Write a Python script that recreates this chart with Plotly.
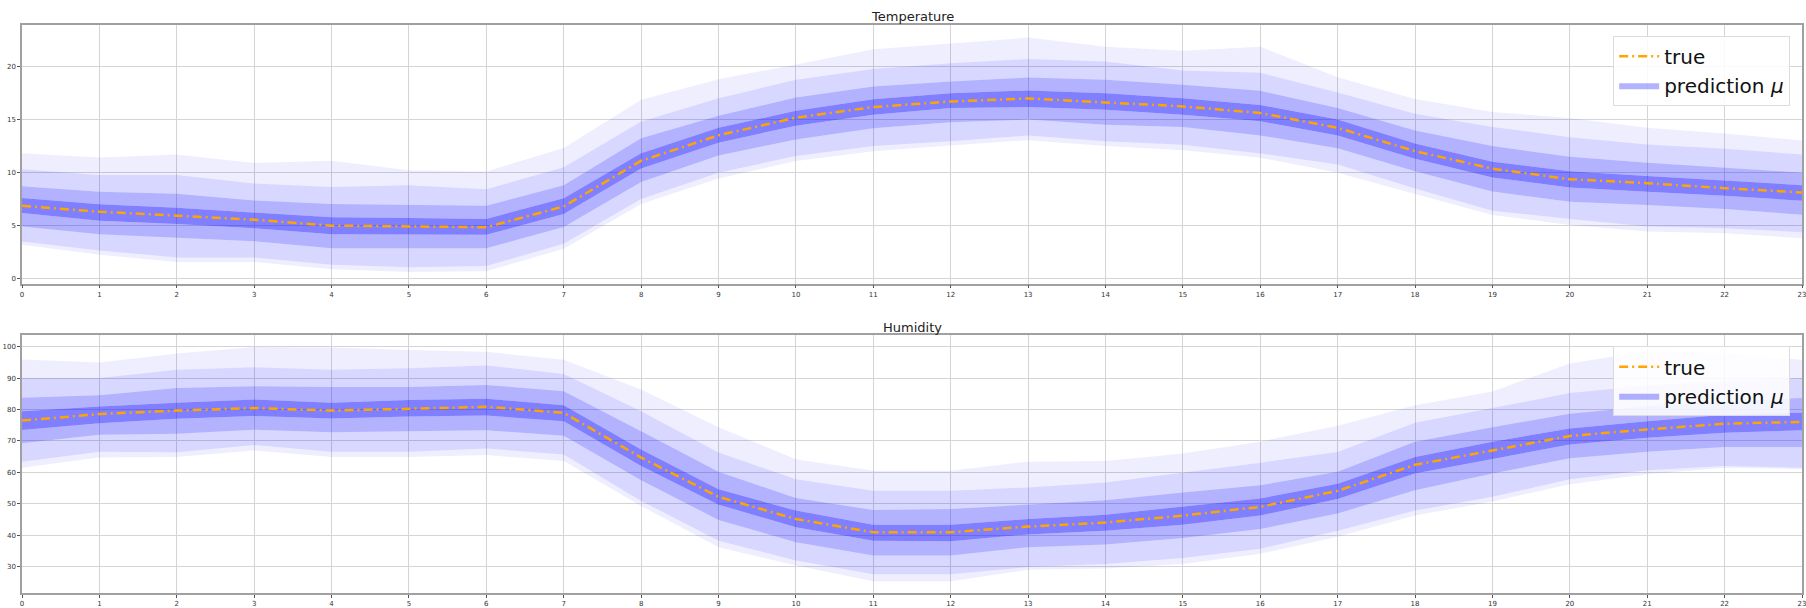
import plotly.graph_objects as go

hours = list(range(24))
x_ticks = list(range(24))

# Temperature: band boundaries (lightest-low ... lightest-high) and true values
temp_true = [6.86, 6.3, 5.93, 5.55, 4.99, 4.93, 4.84, 6.8, 11.1, 13.5, 15.16, 16.16,
             16.69, 16.97, 16.63, 16.22, 15.6, 14.2, 12.01, 10.36, 9.36, 8.99, 8.52, 8.11]
temp_lo4 = [3.2, 2.25, 1.56, 1.56, 0.87, 0.62, 0.69, 2.81, 7.02, 9.42, 11.08, 12.0,
            12.54, 13.04, 12.48, 12.1, 11.39, 9.98, 7.96, 5.99, 5.05, 4.43, 4.27, 3.81]
temp_lo3 = [3.5, 2.65, 2.0, 2.0, 1.31, 1.06, 1.19, 3.28, 7.49, 9.98, 11.54, 12.48,
            12.95, 13.48, 12.95, 12.6, 11.79, 10.76, 8.49, 6.4, 5.62, 4.9, 4.74, 4.37]
temp_lo2 = [4.9, 4.18, 3.84, 3.53, 2.87, 2.87, 2.87, 4.87, 9.11, 11.6, 13.1, 14.17,
            14.73, 14.98, 14.5, 14.29, 13.48, 12.29, 10.11, 8.21, 7.24, 6.93, 6.55, 6.02]
temp_lo1 = [6.18, 5.46, 5.15, 4.74, 4.18, 4.12, 4.12, 6.08, 10.36, 12.8, 14.41, 15.44,
            16.07, 16.16, 15.91, 15.44, 14.82, 13.48, 11.29, 9.52, 8.58, 8.17, 7.8, 7.33]
temp_hi1 = [7.6, 7.0, 6.68, 6.24, 5.77, 5.71, 5.62, 7.58, 11.8, 14.2, 15.82, 16.9,
            17.47, 17.72, 17.47, 17.0, 16.35, 14.98, 12.73, 11.01, 10.11, 9.67, 9.2, 8.8]
temp_hi2 = [8.7, 8.17, 7.99, 7.36, 7.02, 6.96, 6.86, 8.8, 13.23, 15.35, 17.07, 18.1,
            18.56, 18.94, 18.72, 18.25, 17.69, 16.07, 13.95, 12.48, 11.48, 10.92, 10.45, 9.98]
temp_hi3 = [10.3, 9.77, 9.77, 8.95, 8.64, 8.8, 8.42, 10.5, 14.8, 17.0, 18.72, 19.75,
            20.28, 20.69, 20.44, 19.6, 19.4, 17.53, 15.54, 14.29, 13.32, 12.64, 12.23, 11.7]
temp_hi4 = [11.8, 11.4, 11.7, 10.9, 11.1, 10.2, 10.1, 12.3, 16.85, 18.78, 20.16, 21.6,
            22.15, 22.7, 21.84, 21.47, 21.84, 18.97, 16.91, 15.69, 15.13, 14.2, 13.67, 13.01]

# Humidity
hum_true = [76.5, 78.6, 79.7, 80.5, 79.7, 80.4, 80.9, 79.0, 64.7, 52.2, 45.1, 40.9,
            40.9, 42.7, 44.0, 46.2, 49.0, 54.1, 62.4, 67.0, 71.6, 73.7, 75.5, 76.1]
hum_lo4 = [61.5, 64.7, 64.9, 67.0, 64.9, 64.9, 65.5, 63.6, 49.3, 36.1, 30.3, 25.3,
           25.3, 28.9, 29.3, 30.8, 34.0, 39.5, 46.2, 50.7, 56.2, 59.4, 61.5, 61.0]
hum_lo3 = [63.4, 66.6, 66.4, 68.7, 66.6, 66.6, 67.6, 65.7, 50.9, 38.2, 31.9, 27.5,
           27.5, 29.8, 30.8, 32.7, 35.6, 41.4, 47.8, 52.2, 57.8, 60.7, 62.0, 61.5]
hum_lo2 = [69.3, 72.0, 72.3, 73.6, 72.8, 73.1, 73.4, 71.7, 57.5, 44.8, 37.7, 33.5,
           33.5, 36.1, 37.0, 39.1, 41.9, 46.9, 54.3, 59.6, 64.5, 66.6, 68.1, 68.1]
hum_lo1 = [73.5, 75.7, 77.1, 78.0, 77.2, 77.8, 78.1, 76.3, 62.0, 49.7, 42.5, 38.2,
           38.0, 40.2, 41.4, 43.3, 46.2, 51.5, 59.6, 64.2, 68.9, 71.0, 72.6, 73.4]
hum_hi1 = [79.5, 81.0, 82.2, 83.2, 82.2, 83.1, 83.5, 81.4, 67.3, 54.6, 47.8, 43.3,
           43.3, 45.1, 46.5, 49.0, 51.7, 56.4, 64.9, 69.8, 74.0, 76.3, 78.4, 79.0]
hum_hi2 = [83.8, 84.6, 86.9, 87.5, 87.2, 87.2, 87.9, 85.9, 73.1, 60.2, 51.8, 48.0,
           48.3, 49.7, 51.1, 53.6, 55.9, 60.2, 69.8, 74.4, 78.7, 81.1, 82.6, 83.7]
hum_hi3 = [90.1, 90.1, 92.7, 93.5, 92.7, 93.2, 94.1, 91.4, 79.5, 66.3, 57.8, 54.1,
           54.1, 55.2, 56.8, 59.9, 63.1, 66.5, 75.8, 80.5, 85.3, 87.7, 89.0, 90.1]
hum_hi4 = [96.0, 95.0, 97.9, 100.0, 99.8, 99.0, 98.5, 95.9, 86.4, 74.4, 64.2, 60.5,
           60.5, 63.4, 63.6, 66.0, 69.8, 74.9, 81.4, 85.8, 94.7, 98.7, 98.0, 95.9]

titles = ["Temperature", "Humidity"]
temp_ticks = [0, 5, 10, 15, 20]
hum_ticks = [30, 40, 50, 60, 70, 80, 90, 100]

STRIP_COLORS = ["rgba(0,0,255,0.065)", "rgba(0,0,255,0.155)", "rgba(0,0,255,0.30)",
                "rgba(0,0,255,0.50)", "rgba(0,0,255,0.30)", "rgba(0,0,255,0.155)",
                "rgba(0,0,255,0.065)"]

fig = go.Figure()


def add_panel(idx, bounds, true_vals, legend_name):
    xa = "x" if idx == 1 else f"x{idx}"
    ya = "y" if idx == 1 else f"y{idx}"
    for i, b in enumerate(bounds):
        tr = dict(x=hours, y=b, xaxis=xa, yaxis=ya, mode="lines",
                  line=dict(width=0, color="rgba(0,0,0,0)"),
                  hoverinfo="skip", showlegend=False, legend=legend_name)
        if i > 0:
            tr["fill"] = "tonexty"
            tr["fillcolor"] = STRIP_COLORS[i - 1]
        if i == 3:
            tr["showlegend"] = True
            tr["name"] = "prediction <i>μ</i>"
            tr["legendrank"] = 2
            tr["fillcolor"] = STRIP_COLORS[2]
        fig.add_trace(go.Scatter(**tr))
    fig.add_trace(go.Scatter(x=hours, y=true_vals, xaxis=xa, yaxis=ya, mode="lines",
                             name="true", legend=legend_name, legendrank=1,
                             line=dict(color="#ffa500", width=2.5, dash="9px,4px,2px,4px")))


add_panel(1, [temp_lo4, temp_lo3, temp_lo2, temp_lo1, temp_hi1, temp_hi2, temp_hi3, temp_hi4],
          temp_true, "legend")
add_panel(2, [hum_lo4, hum_lo3, hum_lo2, hum_lo1, hum_hi1, hum_hi2, hum_hi3, hum_hi4],
          hum_true, "legend2")

W, H = 1806, 608
top_dom = [1 - 285 / H, 1 - 25 / H]
bot_dom = [1 - 596 / H, 1 - 337 / H]

axis_common = dict(showline=True, mirror=True, linecolor="#a0a0a0", linewidth=1.5,
                   showgrid=True, gridcolor="#d4d4d4", gridwidth=1, zeroline=False,
                   ticks="outside", ticklen=3, tickcolor="#555", tickwidth=0.8,
                   ticklabeloverflow="allow",
                   tickfont=dict(family="DejaVu Sans", size=7, color="#333333"))

legend_common = dict(font=dict(family="DejaVu Sans", size=20, color="#111"),
                     bgcolor="rgba(255,255,255,0.85)", bordercolor="#dcdcdc", borderwidth=1,
                     xanchor="right", yanchor="top", x=1794 / W, itemwidth=40,
                     traceorder="normal")

fig.update_layout(
    width=W, height=H, margin=dict(l=22, r=2, t=0, b=0),
    paper_bgcolor="white", plot_bgcolor="white",
    xaxis=dict(domain=[0, 1], anchor="y", range=[0, 23], tickvals=x_ticks, **axis_common),
    yaxis=dict(domain=top_dom, anchor="x", range=[-0.47, 23.9], tickvals=temp_ticks, **axis_common),
    xaxis2=dict(domain=[0, 1], anchor="y2", range=[0, 23], tickvals=x_ticks, **axis_common),
    yaxis2=dict(domain=bot_dom, anchor="x2", range=[21.5, 103.7], tickvals=hum_ticks, **axis_common),
    legend=dict(y=1 - 36 / H, **legend_common),
    legend2=dict(y=1 - 348 / H, **legend_common),
    annotations=[
        dict(text=titles[0], xref="paper", yref="paper", x=0.5, y=top_dom[1], yanchor="bottom",
             xanchor="center", showarrow=False, yshift=-1,
             font=dict(family="DejaVu Sans", size=13, color="#222")),
        dict(text=titles[1], xref="paper", yref="paper", x=0.5, y=bot_dom[1], yanchor="bottom",
             xanchor="center", showarrow=False, yshift=-2,
             font=dict(family="DejaVu Sans", size=13, color="#222")),
    ],
)

fig.write_html("out.html")
